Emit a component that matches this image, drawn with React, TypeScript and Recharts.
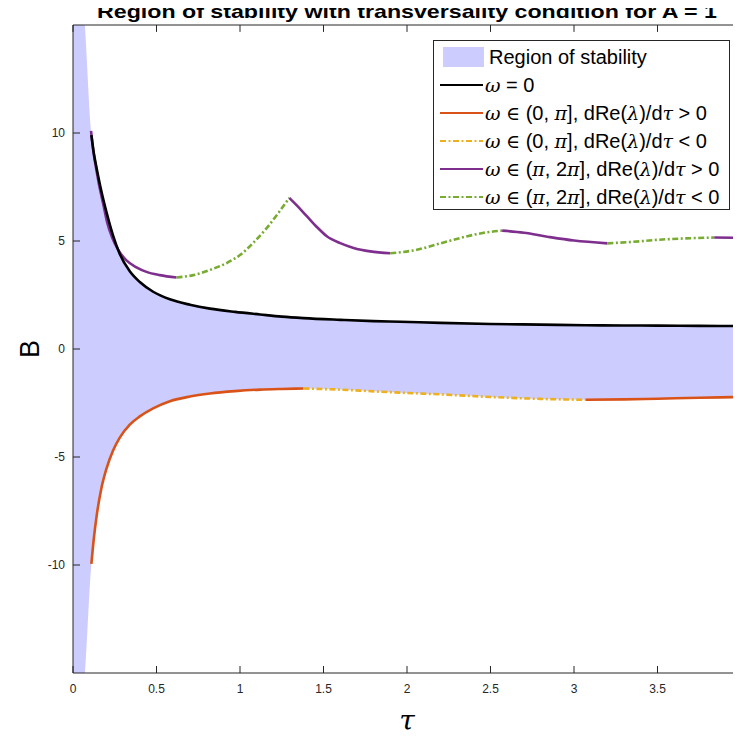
import { ComposedChart, Area, Line, XAxis, YAxis, ReferenceLine } from 'recharts';
import type { ReactNode } from 'react';

const xTicks = [0, 0.5, 1, 1.5, 2, 2.5, 3, 3.5, 4];
const yTicks = [-10, -5, 0, 5, 10];

// omega = 0 curve (upper edge of the region) and lower boundary share these tau samples
const tau = [0.11, 0.125, 0.142, 0.17, 0.2, 0.24, 0.28, 0.34, 0.4, 0.48, 0.58, 0.7, 0.82, 0.97, 1.12, 1.25, 1.38, 1.6, 1.8, 1.96, 2.2, 2.5, 2.8, 3.07, 3.3, 3.5, 3.75, 4.0];
const omegaZero = [9.9, 9.05, 8.35, 7.3, 6.35, 5.25, 4.4, 3.6, 3.1, 2.65, 2.3, 2.05, 1.87, 1.72, 1.6, 1.5, 1.43, 1.35, 1.29, 1.26, 1.21, 1.16, 1.13, 1.1, 1.09, 1.08, 1.07, 1.06];
const lowerB = [-9.95, -8.75, -7.7, -6.45, -5.55, -4.7, -4.1, -3.5, -3.12, -2.75, -2.42, -2.2, -2.06, -1.95, -1.88, -1.85, -1.83, -1.88, -1.96, -2.02, -2.1, -2.22, -2.31, -2.35, -2.33, -2.3, -2.26, -2.22];
const lowerBreaks = [1.38, 3.07];

// omega in (pi, 2pi] branch
const upperTau = [0.108, 0.122, 0.14, 0.16, 0.18, 0.205, 0.235, 0.27, 0.32, 0.38, 0.44, 0.52, 0.62, 0.72, 0.82, 0.92, 1.0, 1.08, 1.16, 1.23, 1.295, 1.34, 1.4, 1.46, 1.52, 1.6, 1.68, 1.78, 1.9, 2.05, 2.2, 2.35, 2.46, 2.57, 2.7, 2.84, 3.0, 3.2, 3.35, 3.53, 3.7, 3.84, 4.0];
const upperB = [10.1, 9.15, 8.3, 7.45, 6.75, 5.85, 5.15, 4.6, 4.1, 3.78, 3.57, 3.42, 3.31, 3.42, 3.66, 3.98, 4.35, 4.92, 5.6, 6.3, 7.0, 6.65, 6.15, 5.65, 5.22, 4.9, 4.68, 4.52, 4.43, 4.58, 4.89, 5.2, 5.38, 5.48, 5.38, 5.2, 5.02, 4.89, 4.96, 5.07, 5.13, 5.16, 5.15];
const upperBreaks = [0.62, 1.295, 1.9, 2.57, 3.2, 3.84];

// left part of the region, runs off the plot as tau -> 0
const edgeTau = [0, 0.055];
const edgeLow = [-16, -16];
const edgeHigh = [16, 16];

const X_DOMAIN = [0, 4];
const Y_DOMAIN = [-15, 15];

const FILL = '#CCCCFF';
const ORANGE = '#D95319';
const YELLOW = '#EDB120';
const PURPLE = '#7E2F8E';
const GREEN = '#77AC30';
const AXIS = '#262626';
const DASHDOT = '6 2.5 2 2.5';
const LW = 2.6;
// inward tick length of the box (top / right), in data units (~7px)
const TICK_X = 0.042;
const TICK_Y = 0.32;

type Pt = { t: number; b: number };

function splitAt(ts: number[], bs: number[], breaks: number[]): Pt[][] {
  const edges = [ts[0], ...breaks, ts[ts.length - 1]];
  const pts = ts.map((t, i) => ({ t, b: bs[i] }));
  return edges.slice(0, -1).map((a, i) => pts.filter(p => p.t >= a && p.t <= edges[i + 1]));
}

const regionData = [
  ...edgeTau.map((t, i) => ({ t, r: [edgeLow[i], edgeHigh[i]] })),
  ...tau.map((t, i) => ({ t, r: [lowerB[i], omegaZero[i]] })),
];
const blackData = tau.map((t, i) => ({ t, b: omegaZero[i] }));
const lowerSegs = splitAt(tau, lowerB, lowerBreaks);
const upperSegs = splitAt(upperTau, upperB, upperBreaks);

const SERIF = '"DejaVu Serif", "Liberation Serif", serif';
const M = ({ children }: { children: ReactNode }) => (
  <span style={{ fontFamily: SERIF, fontStyle: 'italic', fontSize: 19 }}>{children}</span>
);
const S = ({ children }: { children: ReactNode }) => (
  <span style={{ fontFamily: SERIF, fontSize: 19 }}>{children}</span>
);

const legendItems: { color: string; dash?: string; label: ReactNode }[] = [
  { color: '#000000', label: <><M>ω</M> = 0</> },
  { color: ORANGE, label: <><M>ω</M> <S>∈</S> (0, <M>π</M>], dRe(<M>λ</M>)/d<M>τ</M> &gt; 0</> },
  { color: YELLOW, dash: DASHDOT, label: <><M>ω</M> <S>∈</S> (0, <M>π</M>], dRe(<M>λ</M>)/d<M>τ</M> &lt; 0</> },
  { color: PURPLE, label: <><M>ω</M> <S>∈</S> (<M>π</M>, 2<M>π</M>], dRe(<M>λ</M>)/d<M>τ</M> &gt; 0</> },
  { color: GREEN, dash: DASHDOT, label: <><M>ω</M> <S>∈</S> (<M>π</M>, 2<M>π</M>], dRe(<M>λ</M>)/d<M>τ</M> &lt; 0</> },
];

function StabilityLegend() {
  const row = { display: 'flex', alignItems: 'center', height: 28, whiteSpace: 'nowrap' as const };
  return (
    <div style={{ position: 'absolute', left: 433, top: 40, width: 297, height: 170, border: '1px solid #262626', background: '#fff', fontSize: 20, color: '#000', paddingTop: 2, boxSizing: 'border-box' }}>
      <div style={row}>
        <div style={{ width: 41, height: 20, background: FILL, marginLeft: 9, marginRight: 5 }} />
        <span>Region of stability</span>
      </div>
      {legendItems.map((it, i) => (
        <div key={i} style={row}>
          <svg width={43} height={6} style={{ marginLeft: 6, marginRight: 2 }}>
            <line x1={0} y1={3} x2={43} y2={3} stroke={it.color} strokeWidth={2.2} strokeDasharray={it.dash} />
          </svg>
          <span>{it.label}</span>
        </div>
      ))}
    </div>
  );
}

export default function App() {
  return (
    <div style={{ position: 'relative', width: 741, height: 738, margin: -8, overflow: 'hidden', background: '#fff', fontFamily: '"Liberation Sans", Arial, sans-serif' }}>
      <ComposedChart width={760} height={738} margin={{ top: 25, right: 19, bottom: 0, left: 0 }}>
        <XAxis
          dataKey="t"
          type="number"
          domain={X_DOMAIN}
          ticks={xTicks}
          allowDataOverflow
          height={65}
          tickSize={-7}
          tickMargin={18}
          stroke={AXIS}
          tick={{ fontSize: 12, fill: AXIS }}
          label={{
            content: () => (
              <text x={407} y={730} textAnchor="middle" fontFamily={SERIF} fontStyle="italic" fontSize={28} fill="#000">τ</text>
            ),
          }}
        />
        <YAxis
          type="number"
          domain={Y_DOMAIN}
          ticks={yTicks}
          allowDataOverflow
          width={73}
          tickSize={-7}
          tickMargin={15}
          stroke={AXIS}
          tick={{ fontSize: 12, fill: AXIS }}
          label={{
            content: () => (
              <text x={39} y={349} transform="rotate(-90 39 349)" textAnchor="middle" fontSize={27} fill="#000">B</text>
            ),
          }}
        />

        {/* box: top and right edges with inward ticks */}
        <ReferenceLine y={Y_DOMAIN[1]} stroke={AXIS} />
        <ReferenceLine x={X_DOMAIN[1]} stroke={AXIS} />
        {xTicks.map(t => (
          <ReferenceLine key={`tx${t}`} segment={[{ x: t, y: Y_DOMAIN[1] }, { x: t, y: Y_DOMAIN[1] - TICK_Y }]} stroke={AXIS} />
        ))}
        {yTicks.map(v => (
          <ReferenceLine key={`ty${v}`} segment={[{ x: X_DOMAIN[1] - TICK_X, y: v }, { x: X_DOMAIN[1], y: v }]} stroke={AXIS} />
        ))}

        <Area data={regionData} dataKey="r" type="monotone" fill={FILL} fillOpacity={1} stroke="none" isAnimationActive={false} dot={false} activeDot={false} />

        {upperSegs.map((seg, i) => (
          <Line key={`u${i}`} data={seg} dataKey="b" type="monotone" stroke={i % 2 === 0 ? PURPLE : GREEN} strokeWidth={LW} strokeDasharray={i % 2 === 0 ? undefined : DASHDOT} dot={false} activeDot={false} isAnimationActive={false} />
        ))}
        {lowerSegs.map((seg, i) => (
          <Line key={`l${i}`} data={seg} dataKey="b" type="monotone" stroke={i % 2 === 0 ? ORANGE : YELLOW} strokeWidth={LW} strokeDasharray={i % 2 === 0 ? undefined : DASHDOT} dot={false} activeDot={false} isAnimationActive={false} />
        ))}
        <Line data={blackData} dataKey="b" type="monotone" stroke="#000" strokeWidth={LW} dot={false} activeDot={false} isAnimationActive={false} />
      </ComposedChart>
      <svg width={741} height={24} style={{ position: 'absolute', left: 0, top: 0 }}>
        <text x={407} y={18} textAnchor="middle" fontSize={19} fontWeight="bold" fill="#000" textLength={620} lengthAdjust="spacingAndGlyphs">
          Region of stability with transversality condition for A = 1
        </text>
      </svg>
      <StabilityLegend />
    </div>
  );
}
